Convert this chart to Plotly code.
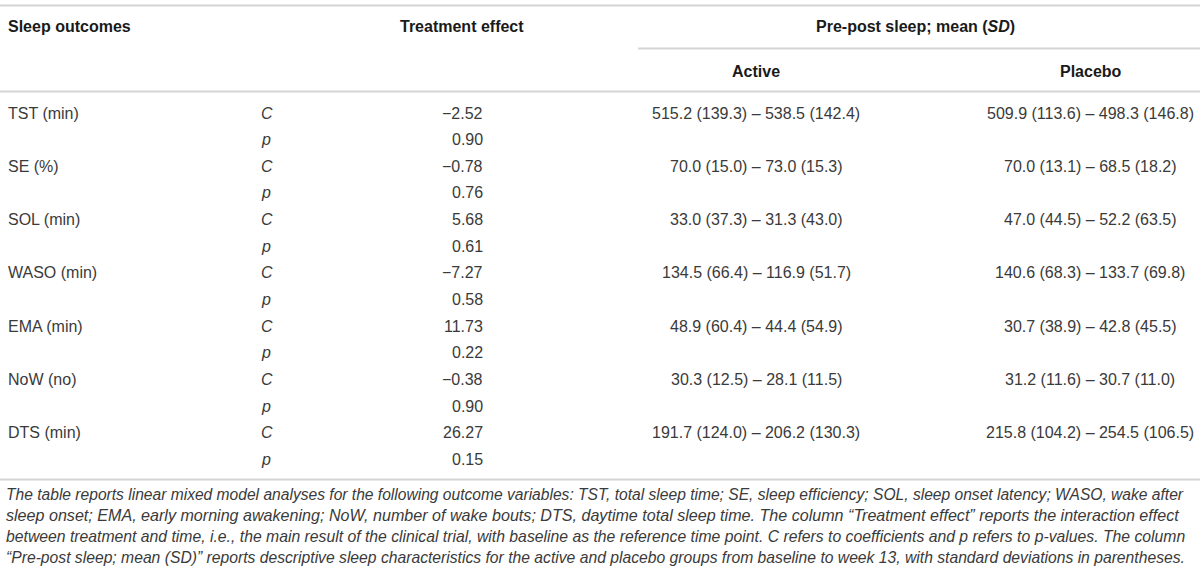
import plotly.graph_objects as go

# ---- data ----
outcomes = ["TST (min)", "SE (%)", "SOL (min)", "WASO (min)", "EMA (min)", "NoW (no)", "DTS (min)"]
coef_c = [-2.52, -0.78, 5.68, -7.27, 11.73, -0.38, 26.27]
coef_p = [0.90, 0.76, 0.61, 0.58, 0.22, 0.90, 0.15]
active_pre = [515.2, 70.0, 33.0, 134.5, 48.9, 30.3, 191.7]
active_pre_sd = [139.3, 15.0, 37.3, 66.4, 60.4, 12.5, 124.0]
active_post = [538.5, 73.0, 31.3, 116.9, 44.4, 28.1, 206.2]
active_post_sd = [142.4, 15.3, 43.0, 51.7, 54.9, 11.5, 130.3]
placebo_pre = [509.9, 70.0, 47.0, 140.6, 30.7, 31.2, 215.8]
placebo_pre_sd = [113.6, 13.1, 44.5, 68.3, 38.9, 11.6, 104.2]
placebo_post = [498.3, 68.5, 52.2, 133.7, 42.8, 30.7, 254.5]
placebo_post_sd = [146.8, 18.2, 63.5, 69.8, 45.5, 11.0, 106.5]

header_cols = ["Sleep outcomes", "Treatment effect", "Pre-post sleep; mean (<i>SD</i>)"]
group_cols = ["Active", "Placebo"]

footnote_lines = [
    "The table reports linear mixed model analyses for the following outcome variables: TST, total sleep time; SE, sleep efficiency; SOL, sleep onset latency; WASO, wake after",
    "sleep onset; EMA, early morning awakening; NoW, number of wake bouts; DTS, daytime total sleep time. The column \u201cTreatment effect\u201d reports the interaction effect",
    "between treatment and time, i.e., the main result of the clinical trial, with baseline as the reference time point. C refers to coefficients and p refers to p-values. The column",
    "\u201cPre-post sleep; mean (SD)\u201d reports descriptive sleep characteristics for the active and placebo groups from baseline to week 13, with standard deviations in parentheses.",
]

# ---- layout constants ----
W, H = 1200, 573
FONT = "Liberation Sans, Arial, sans-serif"
TXT = "#3a3a3a"
BOLD = "#1a1a1a"
LINE = "#d4d4d4"
FS = 16
FOOT_FS = [15.6, 16.1, 15.75, 15.7]

def fmt(v):
    s = f"{abs(v):.2f}"
    return ("\u2212" + s) if v < 0 else s

def pair(a, asd, b, bsd):
    return f"{a:.1f} ({asd:.1f}) \u2013 {b:.1f} ({bsd:.1f})"

fig = go.Figure()
fig.add_trace(go.Scatter(x=[0, W], y=[0, H], mode="markers",
                         marker=dict(opacity=0), hoverinfo="skip", showlegend=False))

ann = []
def add(text, x, y, anchor="left", bold=False, italic=False, size=FS, color=None):
    if bold:
        text = f"<b>{text}</b>"
    if italic:
        text = f"<i>{text}</i>"
    ann.append(dict(text=text, x=x, y=y, xref="x", yref="y", xanchor=anchor,
                    yanchor="middle", showarrow=False,
                    font=dict(family=FONT, size=size, color=color or (BOLD if bold else TXT))))

# headers
add(header_cols[0], 6, 26, "left", bold=True)
add(header_cols[1], 462, 26, "center", bold=True)
add(header_cols[2], 915, 26, "center", bold=True)
add(group_cols[0], 756, 71, "center", bold=True)
add(group_cols[1], 1091, 71, "center", bold=True)

# body
y0, dy = 113, 26.65
for i, name in enumerate(outcomes):
    yc = y0 + (2 * i) * dy
    yp = y0 + (2 * i + 1) * dy
    add(name, 6, yc, "left")
    add("C", 259, yc, "left", italic=True)
    add("p", 259, yp, "left", italic=True)
    add(fmt(coef_c[i]), 485, yc, "right")
    add(fmt(coef_p[i]), 485, yp, "right")
    add(pair(active_pre[i], active_pre_sd[i], active_post[i], active_post_sd[i]), 756, yc, "center")
    add(pair(placebo_pre[i], placebo_pre_sd[i], placebo_post[i], placebo_post_sd[i]), 1090, yc, "center")

# footnote
for j, line in enumerate(footnote_lines):
    add(line, 4, 494 + j * 21.3, "left", italic=True, size=FOOT_FS[j])

shapes = []
def hline(x0, x1, y):
    shapes.append(dict(type="line", xref="x", yref="y", x0=x0, x1=x1, y0=y, y1=y,
                       line=dict(color=LINE, width=2)))
hline(0, W, 5.5)
hline(638, W, 48.5)
hline(0, W, 91.5)
hline(0, W, 479.5)

fig.update_layout(
    width=W, height=H, margin=dict(l=0, r=0, t=0, b=0),
    paper_bgcolor="white", plot_bgcolor="white",
    xaxis=dict(range=[0, W], visible=False, fixedrange=True),
    yaxis=dict(range=[H, 0], visible=False, fixedrange=True),
    annotations=ann, shapes=shapes, showlegend=False,
)
fig.write_html("out.html", config={"displayModeBar": False},
               post_script="document.body.style.margin='0';document.body.style.overflow='hidden';")
